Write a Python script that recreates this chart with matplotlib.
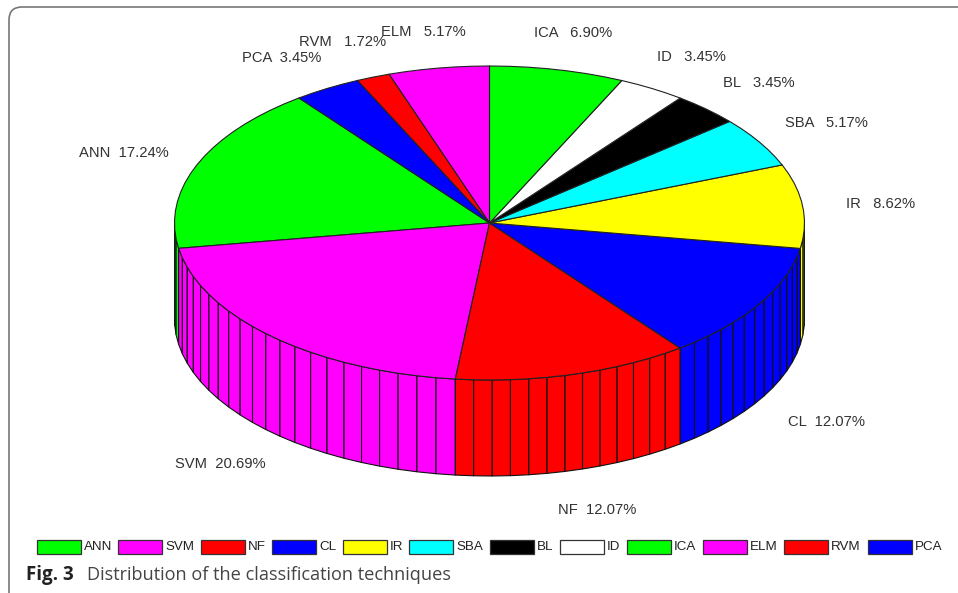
import numpy as np
import matplotlib
matplotlib.use("Agg")
import matplotlib.pyplot as plt
from matplotlib.patches import Polygon, Rectangle, PathPatch
from matplotlib.path import Path

plt.rcParams["font.family"] = ["Liberation Sans", "DejaVu Sans"]

# legend order, runs counter-clockwise round the pie
names = ["ANN", "SVM", "NF", "CL", "IR", "SBA", "BL", "ID", "ICA", "ELM", "RVM", "PCA"]
percents = [17.24, 20.69, 12.07, 12.07, 8.62, 5.17, 3.45, 3.45, 6.90, 5.17, 1.72, 3.45]
colors = ["#00ff00", "#ff00ff", "#ff0000", "#0000ff", "#ffff00", "#00ffff",
          "#000000", "#ffffff", "#00ff00", "#ff00ff", "#ff0000", "#0000ff"]

# pixel layout
cx, cy = 489.5, 223
rx, ry = 315, 157
depth = 96
label_pos = [(79, 153), (175, 464), (558, 510), (788, 422), (846, 204), (785, 123),
             (723, 83), (657, 57), (534, 33), (381, 32), (299, 42), (242, 58)]
label_gap = [2, 2, 2, 2, 3, 3, 3, 3, 3, 3, 3, 2]
swatch_x = [37, 118, 201, 272, 343, 409, 490, 560, 627, 703, 784, 868]

fig = plt.figure(figsize=(9.58, 5.93), dpi=100)
ax = fig.add_axes([0, 0, 1, 1])
ax.set_xlim(0, 958)
ax.set_ylim(593, 0)
ax.axis("off")

# the pie starts with ELM at the top, ANN follows after ELM, RVM, PCA
start = sum(percents[9:])
walls = []
tops = []
for i, p in enumerate(percents):
    a0 = start
    a1 = start + p
    start = a1 % 100
    n = max(1, int(np.ceil(p)))
    # clockwise angle from top, in radians
    th = -np.linspace(a0, a1, n + 1) / 100 * 2 * np.pi
    x = cx + rx * np.sin(th)
    y = cy - ry * np.cos(th)
    tops.append((x, y, colors[i]))
    for j in range(n):
        if np.cos(th[j]) < 0 or np.cos(th[j + 1]) < 0:
            walls.append((y[j] + y[j + 1], x[j], y[j], x[j + 1], y[j + 1], colors[i]))

# back to front so nearer facets overlap the others
for _, x0, y0, x1, y1, c in sorted(walls, key=lambda w: w[0]):
    pts = [(x0, y0), (x1, y1), (x1, y1 + depth), (x0, y0 + depth)]
    ax.add_patch(Polygon(pts, closed=True, facecolor=c, edgecolor="#111111", lw=0.8))

for x, y, c in tops:
    pts = [(cx, cy)] + list(zip(x, y))
    ax.add_patch(Polygon(pts, closed=True, facecolor=c, edgecolor="#222222", lw=0.8, joinstyle="round"))

for name, p, gap, (lx, ly) in zip(names, percents, label_gap, label_pos):
    ax.text(lx, ly, name + " " * gap + f"{p:.2f}%", fontsize=10.6, color="#333333", ha="left", va="center")

# legend
for name, c, sx in zip(names, colors, swatch_x):
    ax.add_patch(Rectangle((sx, 540), 44, 13.5, facecolor=c, edgecolor="#333333", lw=0.9))
    ax.text(sx + 47, 547.5, name, fontsize=9.6, color="#222222", ha="left", va="center")

# frame of the journal figure box
frame = Path([(9, 593), (9, 20), (9, 7), (22, 7), (958, 7)],
             [Path.MOVETO, Path.LINETO, Path.CURVE3, Path.CURVE3, Path.LINETO])
ax.add_patch(PathPatch(frame, facecolor="none", edgecolor="#777777", lw=1.2))

ax.text(26, 575, "Fig. 3", fontsize=13.5, fontweight="bold", family="Open Sans", color="#222222", va="center")
ax.text(87, 575, "Distribution of the classification techniques", fontsize=13.05, family="Open Sans",
        color="#444444", va="center")

fig.savefig("out.png", dpi=100)
plt.close(fig)
